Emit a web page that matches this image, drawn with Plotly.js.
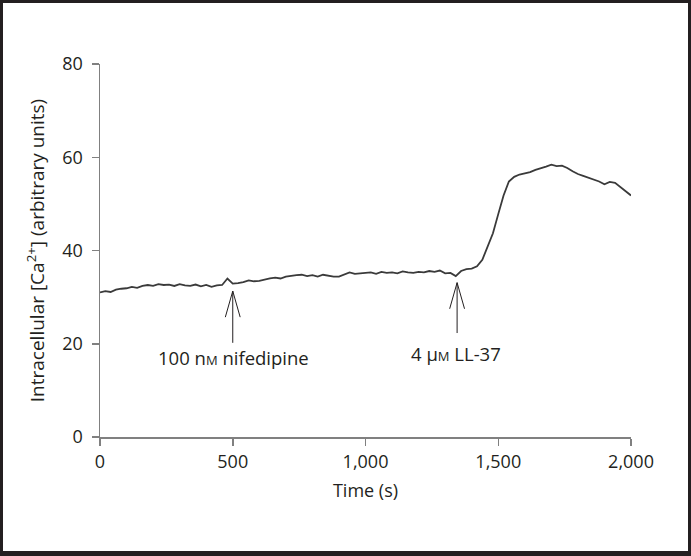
<!DOCTYPE html>
<html>
<head>
<meta charset="utf-8">
<script src="https://cdn.plot.ly/plotly-3.0.1.min.js"></script>
<style>
  html, body { margin: 0; padding: 0; background: #fff; }
  #wrap { position: relative; width: 691px; height: 556px; }
  #chart { position: absolute; left: 0; top: 0; width: 691px; height: 556px; }
  #frame { position: absolute; left: 0; top: 0; width: 691px; height: 556px; box-sizing: border-box;
           border: 3px solid #231f20; border-bottom-width: 5px; pointer-events: none; }
</style>
</head>
<body>
<div id="wrap"><div id="chart"></div><div id="frame"></div></div>
<script>
// Time (s)
const timeS = [0,20,40,60,80,100,120,140,160,180,200,220,240,260,280,300,320,340,360,380,
  400,420,440,460,480,500,520,540,560,580,600,620,640,660,680,700,720,740,760,780,
  800,820,840,860,880,900,920,940,960,980,1000,1020,1040,1060,1080,1100,1120,1140,1160,1180,
  1200,1220,1240,1260,1280,1300,1320,1340,1360,1380,1400,1420,1440,1460,1480,1500,1520,1540,1560,1580,
  1600,1620,1640,1660,1680,1700,1720,1740,1760,1780,1800,1820,1840,1860,1880,1900,1920,1940,1960,1980,2000];
// Intracellular [Ca2+] (arbitrary units)
const calcium = [31.0,31.3,31.1,31.6,31.8,31.9,32.2,32.0,32.4,32.6,32.4,32.8,32.6,32.7,32.4,32.8,32.5,32.4,32.7,32.3,
  32.6,32.2,32.5,32.6,34.0,32.9,33.0,33.2,33.6,33.4,33.5,33.8,34.0,34.2,34.0,34.4,34.6,34.7,34.8,34.5,
  34.7,34.4,34.8,34.6,34.4,34.4,34.8,35.3,35.0,35.1,35.2,35.3,35.0,35.4,35.2,35.3,35.1,35.5,35.3,35.2,
  35.4,35.3,35.6,35.4,35.7,35.1,35.2,34.5,35.6,36.0,36.1,36.6,38.0,41.0,43.7,47.8,51.8,54.8,55.8,56.3,
  56.6,56.8,57.3,57.6,58.0,58.4,58.1,58.2,57.7,57.0,56.4,56.0,55.6,55.3,54.8,54.2,54.7,54.5,53.6,52.8,51.8];

// Arrow annotations
const arrowX = [500, 1345];
const arrowTip = [31.3, 33.1];
const arrowTail = [20.2, 22.3];
const labelX = [501, 1341];
const labelY = [17.0, 18.0];
const labelText = ["100 n<span style=\"font-size:13px\">M</span> nifedipine",
                   "4 μ<span style=\"font-size:13px\">M</span> LL-37"];

const xTicks = [0, 500, 1000, 1500, 2000];
const yTicks = [0, 20, 40, 60, 80];

const headW = 28, headD = 5.6;
const ax = [], ay = [];
arrowX.forEach((x, i) => {
  ax.push(x, x, null, x - headW, x, x + headW, null);
  ay.push(arrowTail[i], arrowTip[i], null, arrowTip[i] - headD, arrowTip[i], arrowTip[i] - headD, null);
});

const FONT = "'Open Sans', 'Noto Sans', sans-serif";
const INK = '#231f20';

const traces = [
  { x: timeS, y: calcium, type: 'scatter', mode: 'lines',
    line: { color: '#3a3a3a', width: 1.8 }, hoverinfo: 'skip', showlegend: false },
  { x: ax, y: ay, type: 'scatter', mode: 'lines',
    line: { color: INK, width: 1 }, hoverinfo: 'skip', showlegend: false, connectgaps: false }
];

const annotations = labelText.map((t, i) => ({
  x: labelX[i], y: labelY[i], xref: 'x', yref: 'y', text: t, showarrow: false,
  xanchor: 'center', yanchor: 'middle', font: { family: FONT, size: 18.5, color: INK }
}));

const axisCommon = {
  showline: true, linecolor: '#808080', linewidth: 1.5,
  ticks: 'outside', ticklen: 7, tickcolor: '#808080', tickwidth: 1.5,
  showgrid: false, zeroline: false, fixedrange: true,
  tickfont: { family: FONT, size: 18, color: INK }
};

const layout = {
  width: 691, height: 556,
  margin: { l: 100, r: 60, t: 64, b: 119 },
  paper_bgcolor: '#ffffff', plot_bgcolor: '#ffffff',
  showlegend: false,
  xaxis: Object.assign({}, axisCommon, {
    range: [0, 2000], tickvals: xTicks, tickformat: ',', ticklabelstandoff: 1,
    title: { text: 'Time (s)', font: { family: FONT, size: 18, color: INK }, standoff: 12 }
  }),
  yaxis: Object.assign({}, axisCommon, {
    range: [0, 80], tickvals: yTicks, ticklabelstandoff: 5,
    title: { text: 'Intracellular [Ca<sup>2+</sup>] (arbitrary units)', font: { family: FONT, size: 19, color: INK }, standoff: 12 }
  }),
  annotations: annotations
};

Plotly.newPlot('chart', traces, layout, { displayModeBar: false, staticPlot: true });
</script>
</body>
</html>
